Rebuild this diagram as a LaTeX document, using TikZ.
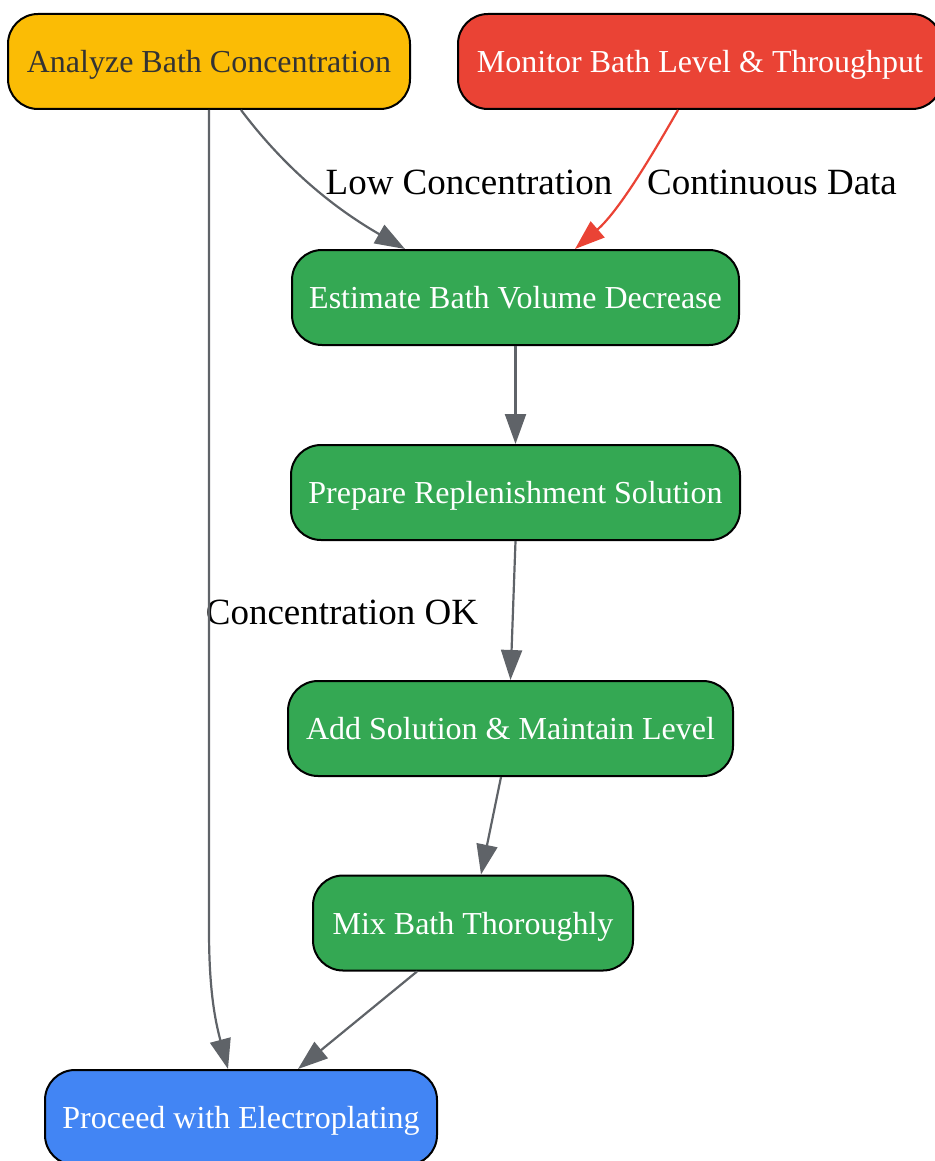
\documentclass[tikz,border=0pt]{standalone}
\usepackage{fontspec}
\setmainfont{Liberation Serif}
\usetikzlibrary{arrows.meta, calc}
\definecolor{gyellow}{HTML}{FBBC05}
\definecolor{gred}{HTML}{EA4335}
\definecolor{ggreen}{HTML}{34A853}
\definecolor{gblue}{HTML}{4285F4}
\definecolor{ggray}{HTML}{5F6368}

\begin{document}
\begin{tikzpicture}[x=0.5pt, y=-0.5pt,
    box/.style={draw=black, line width=1pt, rounded corners=15pt, minimum height=47.5pt,
        inner sep=0pt, text height=12pt, text depth=1pt, text=white, font=\fontsize{16}{19}\selectfont},
    flow/.style={draw=ggray, line width=1.1pt, -{Triangle[length=15pt, width=10.5pt]}},
    lbl/.style={inner sep=0pt, font=\fontsize{18.5}{22}\selectfont}]
    \useasboundingbox (0,0) rectangle (935,1161);

    % Top row
    \node[box, fill=gyellow, text=black!80, minimum width=201pt] (analyze) at (209,61.5) {Analyze Bath Concentration};
    \node[box, fill=gred, minimum width=242pt] (monitor) at (700,61.5) {Monitor Bath Level \& Throughput};

    % Replenishment steps
    \node[box, fill=ggreen, minimum width=223.5pt] (estimate) at (515.5,297.5) {Estimate Bath Volume Decrease};
    \node[box, fill=ggreen, minimum width=224.5pt] (prepare) at (515.5,492.5) {Prepare Replenishment Solution};
    \node[box, fill=ggreen, minimum width=222.5pt] (addsol) at (510.5,728.5) {Add Solution \& Maintain Level};
    \node[box, fill=ggreen, minimum width=160pt] (mixbath) at (473,923) {Mix Bath Thoroughly};

    % End
    \node[box, fill=gblue, minimum width=196pt] (proceed) at (241,1117.5) {Proceed with Electroplating};

    % Edge labels
    \node[lbl] (lowlbl) at (469,182) {Low Concentration};
    \node[lbl] (datalbl) at (772,182) {Continuous Data};
    \node[lbl] (oklbl) at (342,612) {Concentration OK};

    % Connectors
    \draw[flow] (analyze.south) -- (209,930) .. controls (209,990) and (215,1020) .. ($(proceed.north)+(-13,0)$);
    \draw[flow] ($(analyze.south)+(32,0)$) .. controls (275,155) and (320,200) .. ($(estimate.north)+(-110.5,0)$);
    \draw[flow, draw=gred] ($(monitor.south)+(-22,0)$) .. controls (655,150) and (620,210) .. ($(estimate.north)+(59.5,0)$);
    \draw[flow] (estimate.south) -- (prepare.north);
    \draw[flow] (prepare.south) -- (addsol.north);
    \draw[flow] ($(addsol.south)+(-9.5,0)$) -- ($(mixbath.north)+(8,0)$);
    \draw[flow] ($(mixbath.south)+(-56,0)$) -- ($(proceed.north)+(57,0)$);
\end{tikzpicture}
\end{document}
